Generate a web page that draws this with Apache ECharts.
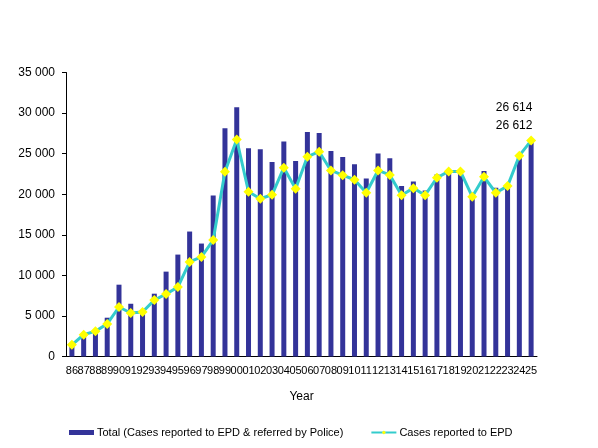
<!DOCTYPE html>
<html>
<head>
<meta charset="utf-8">
<script src="https://cdn.jsdelivr.net/npm/echarts@6/dist/echarts.min.js"></script>
<style>
html,body{margin:0;padding:0;background:#fff;}
#chart{width:598px;height:448px;}
</style>
</head>
<body>
<div id="chart"></div>
<script>
var years = ['86','87','88','89','90','91','92','93','94','95','96','97','98','99','00','01','02','03','04','05','06','07','08','09','10','11','12','13','14','15','16','17','18','19','20','21','22','23','24','25'];
var totalCases = [1350,2550,3050,4780,8850,6500,5700,7740,10460,12560,15400,13920,19850,28120,30710,25650,25530,23960,26500,24090,27670,27540,25320,24580,23680,21950,25030,24420,21000,21580,20460,22440,22850,23000,19970,22850,20800,20950,24500,26614];
var epdCases = [1440,2680,3120,4020,6100,5360,5480,6950,7700,8550,11650,12270,14350,22770,26740,20300,19440,19930,23270,20670,24620,25240,22930,22350,21780,20180,22930,22380,19880,20750,19880,22030,22810,22810,19690,22150,20180,21000,24750,26612];
var yTicks = {min: 0, max: 35000, interval: 5000};
var seriesNames = ['Total (Cases reported to EPD & referred by Police)', 'Cases reported to EPD'];

function fmt(v){ return String(v).replace(/\B(?=(\d{3})+(?!\d))/g, ' '); }
var FONT = 'Liberation Sans, Arial, sans-serif';
var last = years.length - 1;

var barData = totalCases.map(function(v, i){
  if (i === last) return {value: v, label: {show: true, position: 'top', offset: [-17, -22], formatter: function(p){return fmt(p.value);}, color: '#000', fontSize: 12, fontFamily: FONT}};
  return v;
});
var lineData = epdCases.map(function(v, i){
  if (i === last) return {value: v, label: {show: true, position: 'top', distance: 4, offset: [-17, 0], formatter: function(p){return fmt(p.value);}, color: '#000', fontSize: 12, fontFamily: FONT}};
  return v;
});

var chart = echarts.init(document.getElementById('chart'), null, {renderer: 'canvas'});
chart.setOption({
  animation: false,
  backgroundColor: '#fff',
  grid: {left: 66, right: 61, top: 72.5, bottom: 91.5, containLabel: false},
  legend: {
    left: 64, top: 422,
    itemWidth: 25, itemHeight: 5, itemGap: 27,
    textStyle: {fontFamily: FONT, fontSize: 11, color: '#000', padding: [0,0,0,-2]},
    data: [{name: seriesNames[0], icon: 'rect'}, {name: seriesNames[1]}]
  },
  xAxis: {
    type: 'category',
    data: years,
    name: 'Year',
    nameLocation: 'middle',
    nameGap: 34,
    nameTextStyle: {fontFamily: FONT, fontSize: 12, color: '#000'},
    axisLine: {lineStyle: {color: '#000', width: 1}},
    axisTick: {show: false},
    axisLabel: {interval: 0, margin: 9, fontFamily: FONT, fontSize: 11, color: '#000'},
    splitLine: {show: false}
  },
  yAxis: {
    type: 'value',
    min: yTicks.min, max: yTicks.max, interval: yTicks.interval,
    axisLine: {show: true, lineStyle: {color: '#000', width: 1}},
    axisTick: {show: true, length: 4, lineStyle: {color: '#000'}},
    axisLabel: {margin: 11, fontFamily: FONT, fontSize: 12, color: '#000', formatter: function(v){return fmt(v);}},
    splitLine: {show: false}
  },
  series: [
    {
      name: seriesNames[0],
      type: 'bar',
      data: barData,
      barWidth: 5,
      itemStyle: {color: '#333399'}
    },
    {
      name: seriesNames[1],
      type: 'line',
      data: lineData,
      symbol: 'diamond',
      symbolSize: 10,
      showAllSymbol: true,
      lineStyle: {color: '#33CCCC', width: 3},
      itemStyle: {color: '#FFFF00', borderWidth: 0},
      z: 3
    }
  ]
});
</script>
</body>
</html>
